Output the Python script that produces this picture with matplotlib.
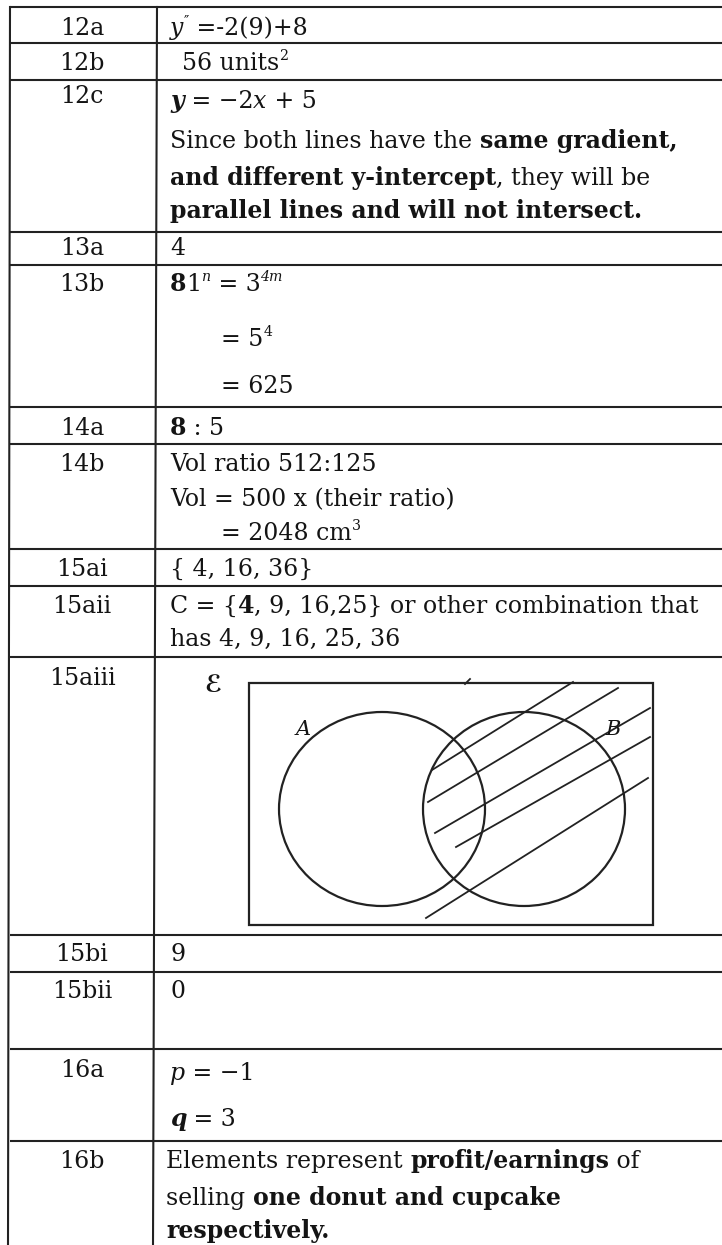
import matplotlib
matplotlib.use("Agg")
import matplotlib.pyplot as plt
from matplotlib.font_manager import FontProperties
from matplotlib.patches import Rectangle, Ellipse

# question labels and the answer text, as runs of (text, style)
row_labels = ["12a", "12b", "12c", "13a", "13b", "14a", "14b",
              "15ai", "15aii", "15aiii", "15bi", "15bii", "16a", "16b"]

answer_runs = [
    [[("y", "i"), ("\u2033", "sup"), (" =-2(9)+8", "r")]],
    [[("56 units", "r"), ("2", "sup")]],
    [[("y", "bi"), (" = \u22122", "r"), ("x", "i"), (" + 5", "r")],
     [("Since both lines have the ", "r"), ("same gradient,", "b")],
     [("and different y-intercept", "b"), (", they will be", "r")],
     [("parallel lines and will not intersect.", "b")]],
    [[("4", "r")]],
    [[("8", "b"), ("1", "r"), ("n", "supi"), (" = 3", "r"), ("4m", "supi")],
     [("= 5", "r"), ("4", "sup")],
     [("= 625", "r")]],
    [[("8", "b"), (" : 5", "r")]],
    [[("Vol ratio 512:125", "r")],
     [("Vol = 500 x (their ratio)", "r")],
     [("= 2048 cm", "r"), ("3", "sup")]],
    [[("{ 4, 16, 36}", "r")]],
    [[("C = {", "r"), ("4", "b"), (", 9, 16,25} or other combination that", "r")],
     [("has 4, 9, 16, 25, 36", "r")]],
    [],
    [[("9", "r")]],
    [[("0", "r")]],
    [[("p", "i"), (" = \u22121", "r")],
     [("q", "bi"), (" = 3", "r")]],
    [[("Elements represent ", "r"), ("profit/earnings", "b"), (" of", "r")],
     [("selling ", "r"), ("one donut and cupcake", "b")],
     [("respectively.", "b")]],
]

# layout, in pixels of the 722x1245 page
row_lines = [7, 43, 80, 232, 265, 407, 444, 549, 586, 657, 935, 972, 1049, 1141]
label_y = [27, 62, 95, 247, 283, 427, 463, 568, 605, 677, 953, 990, 1069, 1160]
answer_y = [[27], [62], [100, 140, 177, 210], [247], [283, 338, 385], [427],
            [463, 498, 532], [568], [605, 638], [], [953], [990],
            [1072, 1118], [1160, 1197, 1230]]
answer_x = [[170], [182], [170, 170, 170, 170], [170], [170, 221, 221], [170],
            [170, 170, 221], [170], [170, 170], [], [170], [170],
            [170, 170], [166, 166, 166]]

venn_box = (249, 683, 404, 242)
circle_a = (382, 809, 206, 194)
circle_b = (524, 809, 202, 194)
hatch_lines = [((432, 770), (573, 682)), ((428, 802), (618, 688)),
               ((435, 833), (650, 708)), ((456, 847), (650, 737)),
               ((426, 918), (648, 778)), ((465, 684), (470, 679))]

W, H = 722, 1245
FAMILY = ["DejaVu Serif", "Liberation Serif"]
FS = 17
INK = "#141414"
LINE = "#222222"
STYLES = {
    "r": ("normal", "normal", 1.0, 0),
    "b": ("bold", "normal", 1.0, 0),
    "i": ("normal", "italic", 1.0, 0),
    "bi": ("bold", "italic", 1.0, 0),
    "sup": ("normal", "normal", 0.6, -10),
    "supi": ("normal", "italic", 0.6, -10),
}

fig = plt.figure(figsize=(W / 100, H / 100), dpi=100)
ax = fig.add_axes([0, 0, 1, 1])
ax.set_xlim(0, W)
ax.set_ylim(H, 0)
ax.axis("off")
renderer = fig.canvas.get_renderer()


def draw_runs(x, y, runs):
    base = y + 8
    for text, code in runs:
        weight, style, scale, dy = STYLES[code]
        fp = FontProperties(family=FAMILY, weight=weight, style=style, size=FS * scale)
        ax.text(x, base + dy, text, fontproperties=fp, ha="left", va="baseline", color=INK)
        w_full = renderer.get_text_width_height_descent(text + "|", fp, ismath=False)[0]
        w_bar = renderer.get_text_width_height_descent("|", fp, ismath=False)[0]
        x += w_full - w_bar


# table grid
for y in row_lines:
    ax.plot([10, W], [y, y], color=LINE, lw=1.5, solid_capstyle="butt")
ax.plot([10, 8], [row_lines[0], H], color=LINE, lw=1.5)
ax.plot([157, 153], [row_lines[0], H], color=LINE, lw=1.5)

fp_label = FontProperties(family=FAMILY, size=FS)
for label, y in zip(row_labels, label_y):
    ax.text(82, y + 8, label, fontproperties=fp_label, ha="center", va="baseline", color=INK)

for runs_list, ys, xs in zip(answer_runs, answer_y, answer_x):
    for runs, y, x in zip(runs_list, ys, xs):
        draw_runs(x, y, runs)

# Venn diagram for 15aiii
bx, by, bw, bh = venn_box
ax.add_patch(Rectangle((bx, by), bw, bh, fill=False, ec=LINE, lw=1.6))
for cx, cy, cw, ch in [circle_a, circle_b]:
    ax.add_patch(Ellipse((cx, cy), cw, ch, fill=False, ec=LINE, lw=1.6))
for (x0, y0), (x1, y1) in hatch_lines:
    ax.plot([x0, x1], [y0, y1], color=LINE, lw=1.3)
ax.text(213, 692, "\u2130", fontproperties=FontProperties(family=["DejaVu Sans", "DejaVu Serif"], weight="bold", size=17),
        ha="center", va="baseline", color=INK)
fp_set = FontProperties(family=FAMILY, style="italic", size=15)
ax.text(303, 735, "A", fontproperties=fp_set, ha="center", va="baseline", color=INK)
ax.text(613, 735, "B", fontproperties=fp_set, ha="center", va="baseline", color=INK)

fig.savefig("out.png", dpi=100, facecolor="white")
